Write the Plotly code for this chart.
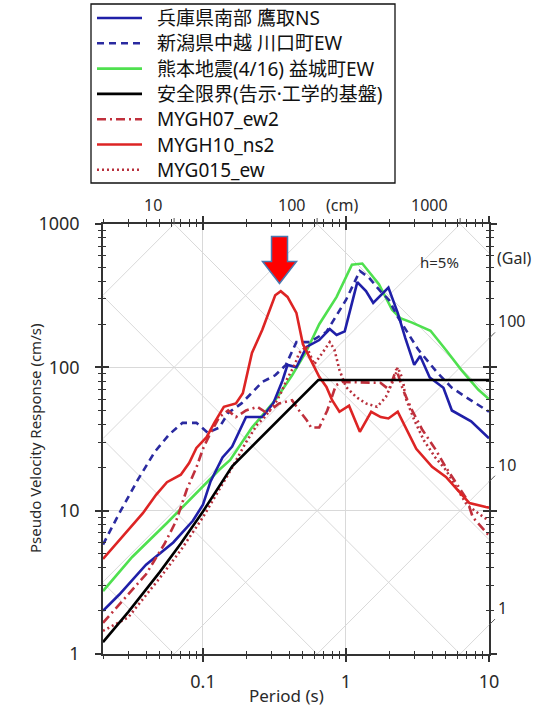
import numpy as np
import plotly.graph_objects as go

# ---------------- data ----------------
names = ["兵庫県南部 鷹取NS", "新潟県中越 川口町EW", "熊本地震(4/16) 益城町EW",
         "安全限界(告示·工学的基盤)", "MYGH07_ew2", "MYGH10_ns2", "MYG015_ew"]

t_kobe = [0.02, 0.026, 0.04, 0.062, 0.085, 0.1, 0.113, 0.137, 0.16, 0.2, 0.26, 0.31, 0.36, 0.39, 0.45,
          0.53, 0.65, 0.77, 0.86, 0.98, 1.2, 1.38, 1.55, 1.98, 2.3, 2.6, 3.0, 3.3, 3.85, 4.8, 5.5, 7.5, 10]
sv_kobe = [2.0, 2.6, 4.2, 6.0, 8.5, 11, 16, 23.5, 28, 45, 45, 56, 81, 104, 100,
           139, 155, 185, 168, 178, 393, 340, 282, 360, 240, 160, 104, 120, 85, 72, 50, 42, 32]

t_niigata = [0.02, 0.026, 0.035, 0.046, 0.058, 0.072, 0.09, 0.108, 0.13, 0.15, 0.186, 0.26, 0.32, 0.38,
             0.45, 0.56, 0.73, 1.0, 1.25, 1.44, 1.74, 2.0, 2.3, 2.7, 3.2, 4.3, 5.5, 6.9, 8.9, 10]
sv_niigata = [5.8, 9.6, 16.4, 25.7, 34, 41, 41, 35, 38, 48, 56, 79, 88, 104,
              150, 150, 177, 295, 470, 425, 340, 295, 225, 175, 133, 93, 72, 62, 53, 49]

t_kumamoto = [0.02, 0.032, 0.056, 0.077, 0.095, 0.13, 0.155, 0.22, 0.32, 0.42, 0.53, 0.65, 0.86,
              1.1, 1.3, 1.7, 2.1, 2.4, 2.9, 3.9, 5.0, 6.4, 8.4, 10]
sv_kumamoto = [2.75, 4.75, 8.2, 11.3, 14, 19.3, 22.6, 38, 59, 88, 130, 200, 310,
               520, 530, 380, 252, 220, 205, 180, 132, 96, 70, 60]

t_limit = [0.02, 0.03, 0.05, 0.07, 0.1, 0.13, 0.16, 0.64, 10]
sv_limit = [1.21, 1.96, 3.74, 5.9, 9.87, 14.7, 20.4, 81.5, 81.5]

t_mygh07 = [0.02, 0.028, 0.04, 0.054, 0.065, 0.077, 0.09, 0.1, 0.11, 0.13, 0.15, 0.17, 0.2, 0.24, 0.28,
            0.34, 0.42, 0.47, 0.53, 0.57, 0.65, 0.74, 0.85, 0.94, 1.3, 1.74, 2.0, 2.25, 2.5, 2.9, 3.4,
            4.2, 5.0, 5.9, 7.0, 7.7, 8.9, 10]
sv_mygh07 = [1.65, 2.4, 3.6, 5.9, 8.5, 14, 20, 27, 33, 45, 50, 45, 50, 53, 48,
             56, 59, 50, 43, 38, 38, 50, 75, 79, 78, 78, 70, 97, 70, 50, 37,
             27, 20, 15.6, 12, 9.0, 7.7, 6.7]

t_mygh10 = [0.02, 0.03, 0.038, 0.047, 0.056, 0.07, 0.08, 0.09, 0.106, 0.12, 0.14, 0.17, 0.19, 0.22,
            0.26, 0.32, 0.35, 0.39, 0.45, 0.5, 0.57, 0.65, 0.73, 0.8, 0.9, 1.05, 1.25, 1.5, 1.75, 1.98,
            2.3, 2.6, 3.1, 4.0, 5.0, 6.0, 7.3, 9.5, 10]
sv_mygh10 = [4.6, 7.3, 9.6, 12.9, 15.8, 17.8, 21.5, 27.4, 32.6, 41, 53, 56, 66, 126,
             183, 318, 340, 310, 240, 145, 112, 86, 73, 59, 49, 54, 35.5, 49, 45, 44,
             49, 38, 27, 20.2, 17.2, 14, 11.3, 10.6, 10.5]

t_myg015 = [0.02, 0.03, 0.05, 0.07, 0.1, 0.13, 0.16, 0.2, 0.24, 0.27, 0.32, 0.35, 0.39, 0.44, 0.47,
            0.53, 0.6, 0.68, 0.77, 0.83, 0.9, 1.0, 1.18, 1.38, 1.65, 1.9, 2.2, 2.3, 2.5, 2.6, 3.0,
            3.5, 4.2, 5.0, 5.9, 7.0, 8.5, 10]
sv_myg015 = [1.45, 1.8, 3.4, 5.3, 9.0, 14, 20, 30, 40, 45, 56, 66, 84, 105, 126,
             140, 105, 125, 150, 133, 96, 73, 62, 56, 53, 62, 86, 100, 82, 62, 43,
             31, 23.6, 19.2, 14.6, 11, 9.5, 8.5]

series_t = [t_kobe, t_niigata, t_kumamoto, t_limit, t_mygh07, t_mygh10, t_myg015]
series_sv = [sv_kobe, sv_niigata, sv_kumamoto, sv_limit, sv_mygh07, sv_mygh10, sv_myg015]
colors = ["#1f1fa8", "#2a2aa0", "#4fe04f", "#000000", "#c0303c", "#dd2424", "#b8303c"]
dashes = ["solid", "7px,5px", "solid", "solid", "9px,4px,2px,4px", "solid", "2px,3px"]
draw_order = [2, 1, 0, 6, 4, 5, 3]

x_ticks = [0.1, 1, 10]
x_tick_text = ["0.1", "1", "10"]
y_ticks = [1, 10, 100, 1000]
y_tick_text = ["1", "10", "100", "1000"]
disp_labels_cm = [10, 100, 1000]
acc_labels_gal = [100, 10, 1]

# ---------------- figure geometry ----------------
W, H = 538, 714
ML, MR, MT, MB = 103, 49, 224, 60
PW, PH = W - ML - MR, H - MT - MB


def px_x(px):   # page pixel -> paper x
    return (px - ML) / PW


def px_y(py):   # page pixel -> paper y
    return (H - MB - py) / PH


T_MIN, T_MAX = 0.02, 10
SV_MIN, SV_MAX = 1, 1000
GRID = "#d9d9d9"
AXC = "#333333"
TXT = "#2a2a2a"
FONT = "Noto Sans"
LEGFONT = "Noto Sans, Noto Sans CJK JP"

fig = go.Figure()

# tripartite diagonal grid (constant displacement / constant acceleration)
edge = [T_MIN, T_MAX]
for D in [0.01, 0.1, 1, 10, 100, 1000]:
    fig.add_trace(go.Scatter(x=edge, y=[2 * np.pi * D / t for t in edge], mode="lines",
                             line=dict(color=GRID, width=1), showlegend=False, hoverinfo="skip"))
for A in [1, 10, 100, 1000, 1e4, 1e5]:
    fig.add_trace(go.Scatter(x=edge, y=[A * t / (2 * np.pi) for t in edge], mode="lines",
                             line=dict(color=GRID, width=1), showlegend=False, hoverinfo="skip"))

for i in draw_order:
    fig.add_trace(go.Scatter(x=series_t[i], y=series_sv[i], name=names[i], mode="lines",
                             line=dict(color=colors[i], width=2.6, dash=dashes[i]),
                             showlegend=False))

minor_x = [k * 10.0 ** e for e in (-2, -1, 0) for k in range(2, 10)]
minor_y = [k * 10.0 ** e for e in (0, 1, 2) for k in range(2, 10)]
xr = [np.log10(T_MIN), np.log10(T_MAX)]
yr = [np.log10(SV_MIN), np.log10(SV_MAX)]

common_x = dict(type="log", range=xr, tickvals=x_ticks, zeroline=False)
common_y = dict(type="log", range=yr, tickvals=y_ticks, zeroline=False)

fig.update_layout(
    width=W, height=H,
    margin=dict(l=ML, r=MR, t=MT, b=MB, autoexpand=False),
    paper_bgcolor="white", plot_bgcolor="white",
    font=dict(family=FONT, color=TXT),
    showlegend=False,
    xaxis=dict(**common_x, ticktext=x_tick_text, ticks="outside", ticklen=6, tickwidth=1.5,
               tickcolor=AXC, showline=True, linecolor=AXC, linewidth=1.5, mirror="allticks",
               showgrid=True, gridcolor=GRID, gridwidth=1,
               tickfont=dict(size=18, color=TXT), ticklabelstandoff=5,
               minor=dict(tickvals=minor_x, ticks="outside", ticklen=3, tickwidth=1.2,
                          tickcolor=AXC, showgrid=False)),
    xaxis2=dict(**common_x, overlaying="x", side="bottom", anchor="y", ticks="inside", ticklen=6,
                tickwidth=1.5, tickcolor=AXC, showticklabels=False, showline=False,
                mirror="allticks", showgrid=False,
                minor=dict(tickvals=minor_x, ticks="inside", ticklen=3, tickwidth=1.2,
                           tickcolor=AXC, showgrid=False)),
    yaxis=dict(**common_y, ticktext=y_tick_text, ticks="outside", ticklen=6, tickwidth=1.5,
               tickcolor=AXC, showline=True, linecolor=AXC, linewidth=1.5, mirror="allticks",
               showgrid=True, gridcolor=GRID, gridwidth=1,
               tickfont=dict(size=18, color=TXT), ticklabelstandoff=12,
               minor=dict(tickvals=minor_y, ticks="outside", ticklen=3, tickwidth=1.2,
                          tickcolor=AXC, showgrid=False)),
    yaxis2=dict(**common_y, overlaying="y", side="left", anchor="x", ticks="inside", ticklen=6,
                tickwidth=1.5, tickcolor=AXC, showticklabels=False, showline=False,
                mirror="allticks", showgrid=False,
                minor=dict(tickvals=minor_y, ticks="inside", ticklen=3, tickwidth=1.2,
                           tickcolor=AXC, showgrid=False)),
)

# invisible trace to activate the overlay (inside-tick) axes
fig.add_trace(go.Scatter(x=[T_MIN], y=[SV_MIN], xaxis="x2", yaxis="y2", mode="markers",
                         marker=dict(opacity=0), showlegend=False, hoverinfo="skip"))

ann = []
shapes = []

# displacement labels on top
for D in disp_labels_cm:
    tD = 2 * np.pi * D / SV_MAX
    ann.append(dict(x=np.log10(tD), xref="x", y=1, yref="paper", text=str(D), showarrow=False,
                    xanchor="right", yanchor="bottom", xshift=-10, yshift=6,
                    font=dict(size=16, color=TXT)))
    shapes.append(dict(type="line", xref="x", xsizemode="pixel", xanchor=tD, x0=0, x1=-6,
                       yref="paper", ysizemode="pixel", yanchor=1, y0=0, y1=6,
                       line=dict(color="#555", width=1)))
ann.append(dict(x=px_x(342), xref="paper", y=1, yref="paper", text="(cm)", showarrow=False,
                xanchor="center", yanchor="bottom", yshift=6, font=dict(size=16, color=TXT)))

# acceleration labels on right
for A in acc_labels_gal:
    svA = A * T_MAX / (2 * np.pi)
    ann.append(dict(x=1, xref="paper", y=np.log10(svA), yref="y", text=str(A), showarrow=False,
                    xanchor="left", yanchor="middle", xshift=7, yshift=17,
                    font=dict(size=16, color=TXT)))
    shapes.append(dict(type="line", xref="paper", xsizemode="pixel", xanchor=1, x0=0, x1=6,
                       yref="y", ysizemode="pixel", yanchor=svA, y0=0, y1=6,
                       line=dict(color="#555", width=1)))
ann.append(dict(x=1, xref="paper", y=np.log10(580), yref="y", text="(Gal)", showarrow=False,
                xanchor="left", yanchor="middle", xshift=6, font=dict(size=16, color=TXT)))
ann.append(dict(x=np.log10(4.5), xref="x", y=np.log10(544), yref="y", text="h=5%",
                showarrow=False, xanchor="center", yanchor="middle", font=dict(size=15, color=TXT)))

# axis titles
ann.append(dict(x=px_x(35), xref="paper", y=0.5, yref="paper", text="Pseudo Velocity Response (cm/s)",
                textangle=-90, showarrow=False, xanchor="center", yanchor="middle",
                font=dict(size=15, color=TXT)))
ann.append(dict(x=px_x(286), xref="paper", y=px_y(695), yref="paper", text="Period (s)",
                showarrow=False, xanchor="center", yanchor="middle", font=dict(size=17, color=TXT)))

# legend box (drawn by hand to match the original layout)
LEG_L, LEG_R, LEG_T, LEG_B = 91, 395, 4, 183
shapes.append(dict(type="rect", xref="paper", yref="paper",
                   x0=px_x(LEG_L), x1=px_x(LEG_R), y0=px_y(LEG_B), y1=px_y(LEG_T),
                   line=dict(color="#111", width=1.3), fillcolor="white", layer="above"))
for i, name in enumerate(names):
    yc = 18 + 25.3 * i
    shapes.append(dict(type="line", xref="paper", yref="paper", x0=px_x(97), x1=px_x(142),
                       y0=px_y(yc), y1=px_y(yc), layer="above",
                       line=dict(color=colors[i], width=2.6, dash=dashes[i])))
    ann.append(dict(x=px_x(155), xref="paper", y=px_y(yc), yref="paper", text=name,
                    showarrow=False, xanchor="left", yanchor="middle",
                    font=dict(family=LEGFONT, size=19, color="#111")))

# red block arrow pointing at the MYGH10 peak
shapes.append(dict(type="path", xref="x", yref="y", xsizemode="pixel", ysizemode="pixel",
                   xanchor=0.343, yanchor=385,
                   path="M 0,0 L -17,22 L -8,22 L -8,47 L 8,47 L 8,22 L 17,22 Z",
                   fillcolor="#ff0000", line=dict(color="#4a78b0", width=1.5)))

fig.update_layout(annotations=ann, shapes=shapes)
fig.write_html("out.html", config={"displayModeBar": False},
               post_script="document.body.style.margin='0px';document.body.style.overflow='hidden';")
